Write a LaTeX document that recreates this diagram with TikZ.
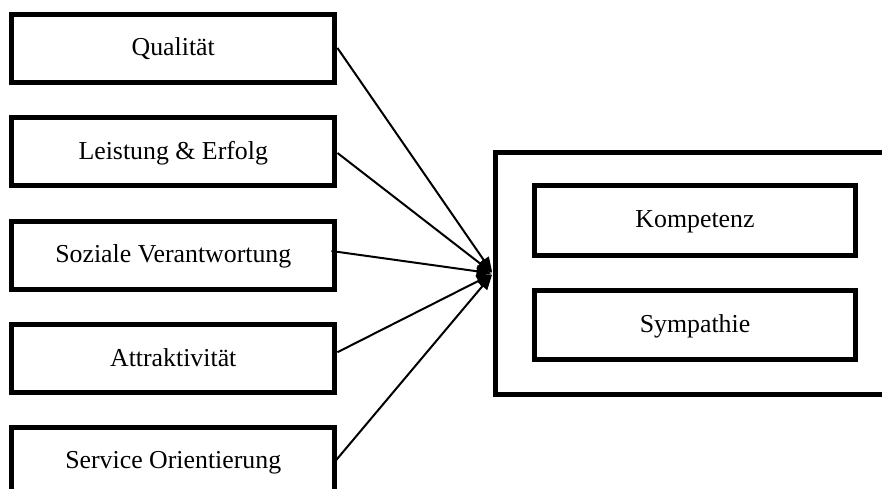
\documentclass[tikz,border=0pt]{standalone}
\usepackage{fontspec}
\setmainfont{Liberation Serif}
\usetikzlibrary{arrows.meta}

\tikzset{
  px/.style={x=0.02cm, y=-0.02cm},
  boxtext/.style={font=\fontsize{14.7}{17}\selectfont, text depth=0.3ex},
  factor/.style={draw, line width=0.1cm, rectangle, inner sep=0pt,
    minimum width=6.47cm, minimum height=1.36cm, boxtext},
  dimension/.style={draw, line width=0.1cm, rectangle, inner sep=0pt,
    minimum width=6.44cm, minimum height=1.39cm, boxtext},
  frame/.style={draw, line width=0.1cm, rectangle, inner sep=0pt,
    minimum width=8.5cm, minimum height=4.84cm},
  link/.style={line width=0.04cm, -{Triangle[length=0.3cm, width=0.24cm]},
    shorten >=0.03cm}
}

\begin{document}
\begin{tikzpicture}[px]
  \clip (0,0) rectangle (882,488);

  % factors on the left
  \node[factor] (q) at (173.25,48)    {Qualität};
  \node[factor] (l) at (173.25,151.5) {Leistung \& Erfolg};
  \node[factor] (s) at (173.25,255)   {Soziale Verantwortung};
  \node[factor] (a) at (173.25,358.7) {Attraktivität};
  \node[factor] (o) at (173.25,461.5) {Service Orientierung};

  % reputation frame with its two dimensions
  \node[frame] (rep) at (708,273.5) {};
  \node[dimension] (k) at (695,220.5) {Kompetenz};
  \node[dimension] (y) at (695,325)   {Sympathie};

  % connectors into the frame
  \draw[link] (q.east) -- (rep.west);
  \draw[link] ([yshift=-1.5*0.02cm]l.east) -- (rep.west);
  \draw[link] ([xshift=-0.12cm,yshift=4*0.02cm]s.east) -- (rep.west);
  \draw[link] ([yshift=6.5*0.02cm]a.east) -- (rep.west);
  \draw[link] ([xshift=-0.05cm]o.east) -- (rep.west);
\end{tikzpicture}
\end{document}
